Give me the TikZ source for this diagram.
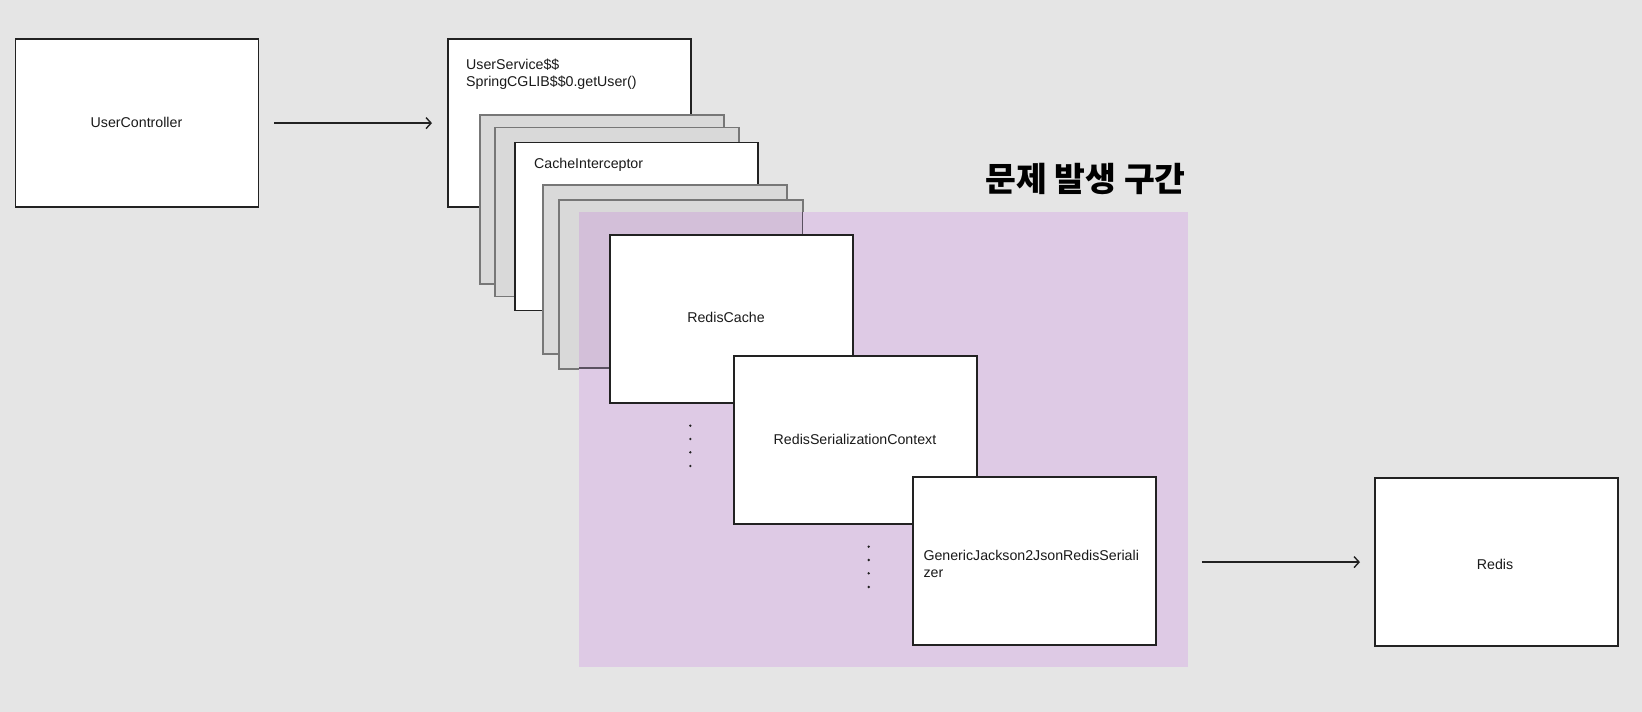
\documentclass[tikz,border=0pt]{standalone}
\usepackage{fontspec}
\setmainfont{Liberation Sans}
\newfontfamily\krfont{Noto Sans CJK KR}
\usetikzlibrary{arrows.meta}
\definecolor{bg}{HTML}{E5E5E5}
\definecolor{boxline}{HTML}{222222}
\definecolor{grayline}{HTML}{777777}
\definecolor{grayfill}{HTML}{D9D9D9}
\definecolor{zonefill}{HTML}{DECAE5}
\definecolor{zonedark}{HTML}{D3BFD9}
\definecolor{zoneline}{HTML}{5A5060}
\definecolor{textcol}{HTML}{1A1A1A}
\tikzset{
  wbox/.style={draw=boxline, fill=white, line width=1.6pt, minimum width=243pt, minimum height=168pt, anchor=north west, inner sep=0pt},
  gbox/.style={draw=grayline, fill=grayfill, line width=1.6pt, minimum width=244pt, minimum height=169pt, anchor=north west, inner sep=0pt},
  lbl/.style={font=\fontsize{14.2}{16.9}\selectfont, text=textcol, inner sep=0pt},
  arr/.style={draw=boxline, line width=1.4pt, -{Straight Barb[length=5pt,width=11pt,line width=1.4pt]}},
  dot/.style={fill=boxline},
}
\begin{document}
\begin{tikzpicture}[x=1pt,y=-1pt]
\useasboundingbox (0,0) rectangle (1642,712);
\fill[bg] (0,0) rectangle (1642,712);
% left column
\node[wbox] (uc) at (14.7,38.3) {};
\node[lbl] (uct) at (136.5,122.3) {UserController};
\node[wbox] (us) at (447,38.3) {};
\node[lbl, anchor=north west, align=left] (ust) at (466,59) {UserService\$\$\\SpringCGLIB\$\$0.getUser()};
% stack
\node[gbox] (g1) at (479.3,114) {};
\node[gbox] (g2) at (494,126.7) {};
\node[wbox] (ci) at (514,141.7) {};
\node[lbl, anchor=west] (cit) at (534,165) {CacheInterceptor};
\node[gbox] (g3) at (542.3,184.3) {};
\node[gbox] (g4) at (558.3,199) {};
% problem zone
\fill[zonefill] (579,212.3) rectangle (1187.5,666.7);
\begin{scope}
  \clip (579,212.3) rectangle (1187.5,666.7);
  \draw[fill=zonedark, draw=zoneline, line width=1.6pt] (558.3,199) rectangle (802.3,368);
\end{scope}
\node[font=\krfont\bfseries\fontsize{33.5}{33.5}\selectfont, text=black, anchor=east, inner sep=0pt] (title) at (1186,178.5) {문제 발생 구간};
% Redis chain
\node[wbox] (rc) at (609.3,234.3) {};
\node[lbl] (rct) at (726,317.3) {RedisCache};
\foreach \yy in {425.7,439,452.3,466} \fill[dot] (690.3,\yy) circle (1.3pt);
\node[wbox] (rsc) at (733,355.3) {};
\node[lbl] (rsct) at (855,439.3) {RedisSerializationContext};
\foreach \yy in {546.7,560,573.3,587} \fill[dot] (868.7,\yy) circle (1.3pt);
\node[wbox] (gen) at (912.3,476.3) {};
\node[lbl, anchor=north west, align=left] (gent) at (923.3,550) {GenericJackson2JsonRedisSeriali\\zer};
\node[wbox] (redis) at (1374,477.3) {};
\node[lbl] (redist) at (1495,564) {Redis};
% connectors
\draw[arr, shorten <=15pt, shorten >=15pt] (uc.east) -- (us.west);
\coordinate (genout) at (gen.east |- redis.west);
\draw[arr, shorten <=45pt, shorten >=14pt] (genout) -- (redis.west);
\end{tikzpicture}
\end{document}
